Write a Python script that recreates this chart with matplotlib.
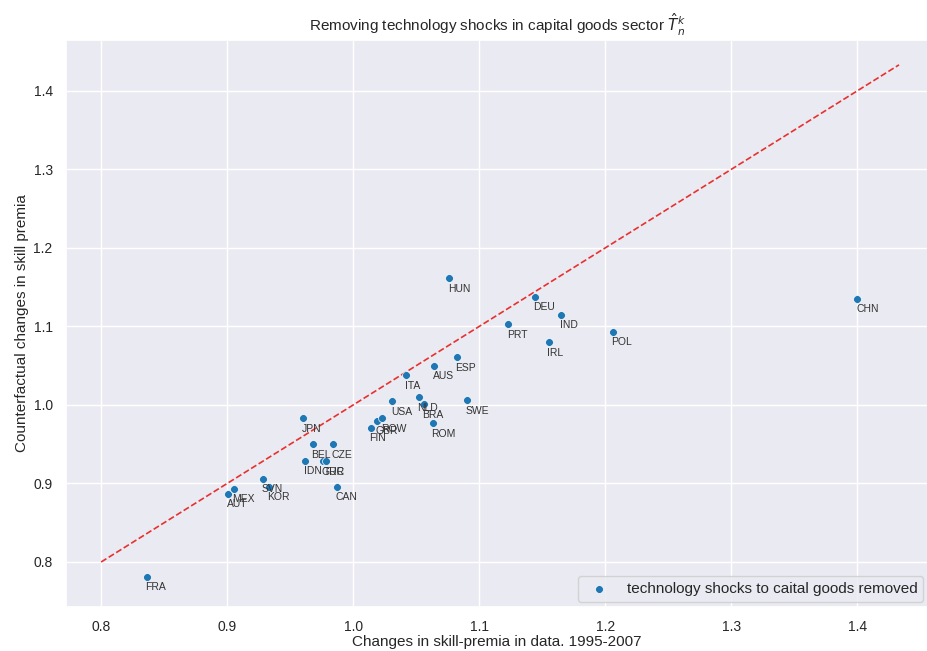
import matplotlib
matplotlib.use("Agg")
import matplotlib.pyplot as plt
import seaborn as sns

countries = ["CHN", "POL", "IRL", "IND", "DEU", "PRT", "HUN", "ESP", "AUS", "ITA",
             "SWE", "USA", "NLD", "BRA", "ROM", "FIN", "GBR", "ROW", "JPN", "BEL",
             "CZE", "IDN", "GRC", "TUR", "CAN", "FRA", "AUT", "MEX", "SVN", "KOR"]
data_change = [1.400, 1.206, 1.155, 1.165, 1.144, 1.123, 1.076, 1.082, 1.064, 1.042,
               1.090, 1.031, 1.052, 1.056, 1.063, 1.014, 1.019, 1.023, 0.960, 0.968,
               0.984, 0.962, 0.976, 0.978, 0.987, 0.836, 0.901, 0.905, 0.928, 0.933]
counterfactual = [1.135, 1.093, 1.080, 1.115, 1.138, 1.103, 1.161, 1.061, 1.050, 1.038,
                  1.006, 1.005, 1.010, 1.001, 0.977, 0.971, 0.980, 0.983, 0.983, 0.950,
                  0.950, 0.929, 0.928, 0.928, 0.896, 0.781, 0.887, 0.893, 0.906, 0.896]
diag = [0.80, 1.433]

sns.set_theme(style="darkgrid")
plt.rcParams["font.family"] = ["Liberation Sans", "DejaVu Sans"]

fig, ax = plt.subplots(figsize=(9.28, 6.51), dpi=100)
ax.scatter(data_change, counterfactual, s=32, color="#1f77b4", edgecolor="white",
           linewidth=0.5, label="technology shocks to caital goods removed", zorder=3)
ax.plot(diag, diag, "--", color="#e8312f", lw=1.2, zorder=2)

for name, x, y in zip(countries, data_change, counterfactual):
    ax.annotate(name, (x, y), xytext=(-1, -4), textcoords="offset points",
                ha="left", va="top", fontsize=7.5, color="#333333")

ax.set_xlim(0.772, 1.456)
ax.set_ylim(0.743, 1.465)
ax.tick_params(labelsize=10)
ax.set_xlabel("Changes in skill-premia in data. 1995-2007", fontsize=11, labelpad=1)
ax.set_ylabel("Counterfactual changes in skill premia", fontsize=11, labelpad=3)
ax.set_title(r"Removing technology shocks in capital goods sector $\hat{T}_n^k$", fontsize=11)
ax.legend(loc="lower right", fontsize=11, borderaxespad=0.3)

plt.subplots_adjust(left=0.071, right=1.0, top=0.939, bottom=0.068)
plt.savefig("out.png")
